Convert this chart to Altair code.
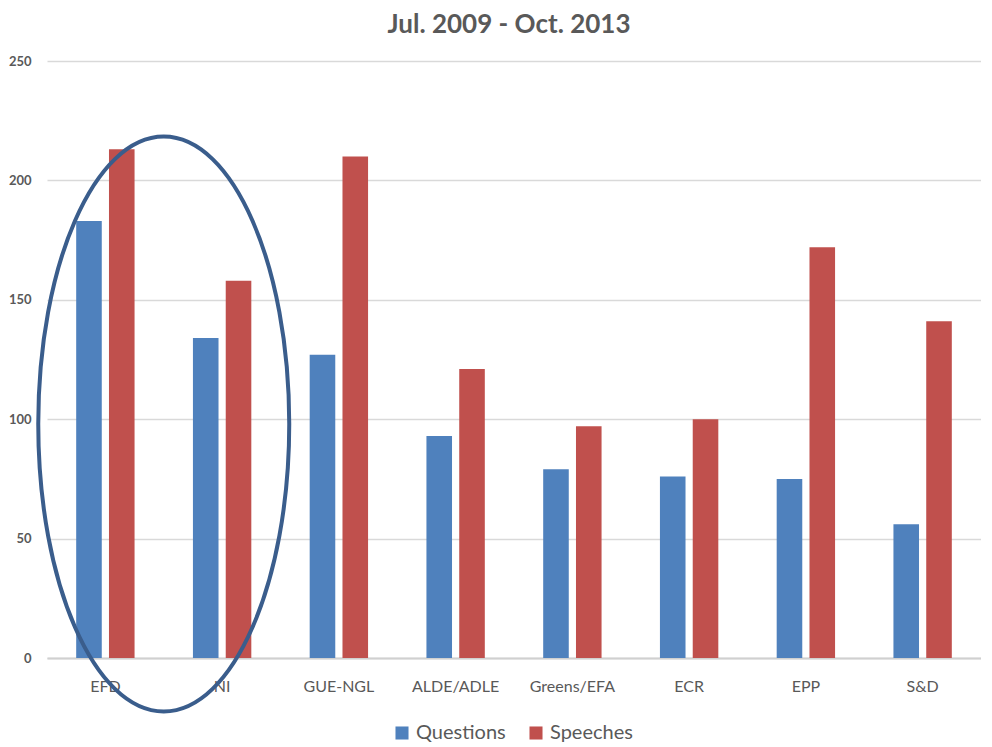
import altair as alt
import pandas as pd

groups = ["EFD", "NI", "GUE-NGL", "ALDE/ADLE", "Greens/EFA", "ECR", "EPP", "S&D"]
questions = [183, 134, 127, 93, 79, 76, 75, 56]
speeches = [213, 158, 210, 121, 97, 100, 172, 141]
series = ["Questions", "Speeches"]
colors = ["#4F81BD", "#C0504D"]
y_ticks = [0, 50, 100, 150, 200, 250]
y_domain = [0, 250]

# annotation: ellipse around the first two groups (EFD and NI)
ellipse_pos = [1.0]      # group-index units: boundary between EFD and NI
ellipse_value = [98]     # centre in value units

FONT = "Lato"
TEXT = "#595959"

rows = []
for g, q, s in zip(groups, questions, speeches):
    rows.append({"group": g, "series": series[0], "value": q})
    rows.append({"group": g, "series": series[1], "value": s})
df = pd.DataFrame(rows)

yscale = alt.Scale(domain=y_domain, nice=False)

bars = alt.Chart(df).mark_bar().encode(
    x=alt.X("group:N", sort=groups,
            scale=alt.Scale(paddingInner=0.5, paddingOuter=0.25),
            axis=alt.Axis(title=None, labelAngle=0, labelFontSize=16, labelColor=TEXT,
                          labelFont=FONT, ticks=False, labelPadding=20,
                          domainColor="#D0D0D0", domainWidth=2, grid=False)),
    xOffset=alt.XOffset("series:N", sort=series, scale=alt.Scale(paddingInner=0.22)),
    y=alt.Y("value:Q", scale=yscale,
            axis=alt.Axis(title=None, values=y_ticks, labelFontSize=13, labelColor=TEXT,
                          labelFont=FONT, labelFontWeight="bold", ticks=False, domain=False,
                          labelPadding=16, gridColor="#D9D9D9", gridWidth=1.5)),
    color=alt.Color("series:N", sort=series,
                    scale=alt.Scale(domain=series, range=colors),
                    legend=alt.Legend(title=None, orient="none", legendX=345, legendY=662,
                                      direction="horizontal",
                                      symbolType="square", symbolSize=170,
                                      labelFontSize=20, labelColor=TEXT, labelFont=FONT,
                                      columnPadding=20, symbolOpacity=1)),
)

ell_df = pd.DataFrame({"pos": ellipse_pos, "value": ellipse_value})
ellipse = alt.Chart(ell_df).mark_point(
    shape="M0,-1A0.4365,1,0,1,1,0,1A0.4365,1,0,1,1,0,-1Z",
    filled=False, size=330625, strokeWidth=4, color="#3A5D8C", opacity=1,
).encode(
    x=alt.X("pos:Q", scale=alt.Scale(domain=[0, len(groups)], nice=False, zero=False), axis=None),
    y=alt.Y("value:Q", scale=yscale),
)

chart = alt.layer(bars, ellipse).resolve_scale(x="independent").properties(
    width=934, height=597,
    title=alt.TitleParams("Jul. 2009 - Oct. 2013", fontSize=26, fontWeight="bold",
                          color=TEXT, font=FONT, offset=17, dx=-5),
    padding={"left": 0, "top": 4, "right": 0, "bottom": 0},
).configure_view(stroke=None)

chart.save("out.html", embed_options={"renderer": "svg", "actions": False})
